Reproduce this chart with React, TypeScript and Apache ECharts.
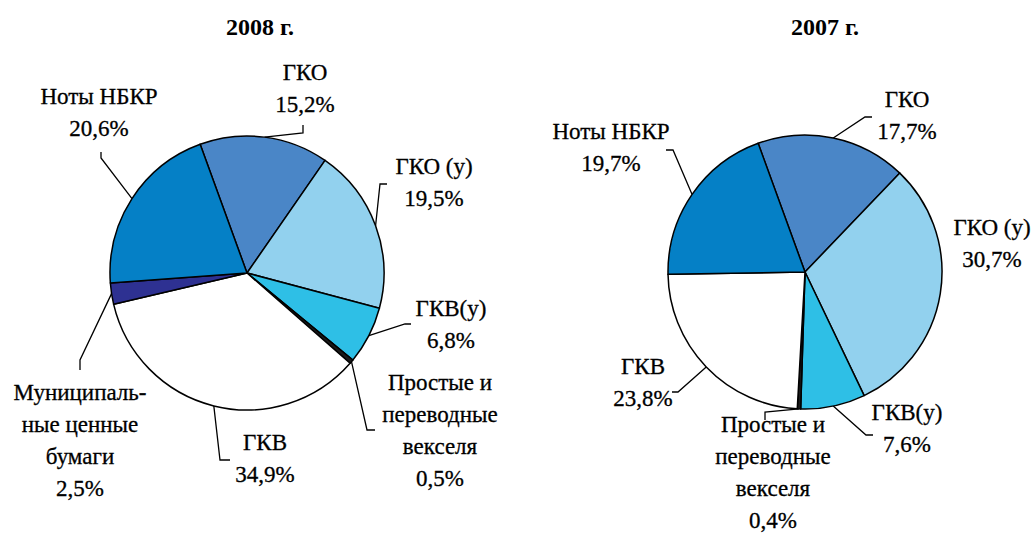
import { useEffect, useRef } from "react";
import * as echarts from "echarts";

// ---- data ----
const categories2008 = [
  "ГКО",
  "ГКО (у)",
  "ГКВ(у)",
  "Простые и\nпереводные\nвекселя",
  "ГКВ",
  "Муниципаль-\nные ценные\nбумаги",
  "Ноты НБКР",
];
const values2008 = [15.2, 19.5, 6.8, 0.5, 34.9, 2.5, 20.6];

const categories2007 = [
  "ГКО",
  "ГКО (у)",
  "ГКВ(у)",
  "Простые и\nпереводные\nвекселя",
  "ГКВ",
  "Ноты НБКР",
];
const values2007 = [17.7, 30.7, 7.6, 0.4, 23.8, 19.7];

const titles = ["2008 г.", "2007 г."];

// ---- styles ----
const colorMap: Record<string, string> = {
  "ГКО": "#4A86C7",
  "ГКО (у)": "#92D1EE",
  "ГКВ(у)": "#2EBFE6",
  "Простые и\nпереводные\nвекселя": "#1A1A1A",
  "ГКВ": "#FFFFFF",
  "Муниципаль-\nные ценные\nбумаги": "#2E3192",
  "Ноты НБКР": "#0580C6",
};

// label anchor (centre of text block) and leader-line elbow/end, in px
type LabelPos = { at: [number, number]; line?: [[number, number], [number, number]] };
const labels2008: LabelPos[] = [
  { at: [305, 88], line: [[303, 133], [303, 125]] },
  { at: [434, 182], line: [[380, 184], [387, 184]] },
  { at: [451, 324], line: [[405, 324], [411, 324]] },
  { at: [440, 430], line: [[367, 430], [375, 430]] },
  { at: [265, 458], line: [[220, 460], [230, 460]] },
  { at: [80, 440], line: [[80, 360], [80, 370]] },
  { at: [99, 112], line: [[101, 158], [101, 152]] },
];
const labels2007: LabelPos[] = [
  { at: [907, 115], line: [[865, 117], [872, 117]] },
  { at: [992, 243] },
  { at: [907, 428], line: [[866, 435], [873, 435]] },
  { at: [773, 472], line: [[765, 412], [765, 420]] },
  { at: [643, 382], line: [[678, 392], [672, 392]] },
  { at: [611, 147], line: [[673, 150], [666, 150]] },
];

const FONT = "Liberation Serif";

const fmt = (v: number) => v.toFixed(1).replace(".", ",");

function makeSeries(
  cats: string[],
  vals: number[],
  center: [number, number],
  pos: LabelPos[]
) {
  return {
    type: "pie",
    radius: 137,
    center,
    startAngle: 110,
    clockwise: true,
    avoidLabelOverlap: false,
    silent: true,
    emphasis: { disabled: true },
    itemStyle: { borderColor: "#000", borderWidth: 1.5 },
    label: {
      show: true,
      position: "outside",
      formatter: (p: any) => `${p.name}\n${fmt(p.value)}%`,
      fontFamily: FONT,
      fontSize: 23,
      lineHeight: 32,
      color: "#000",
      align: "center",
      textBorderColor: "#000",
      textBorderWidth: 0.3,
    },
    labelLine: {
      show: true,
      length: 10,
      length2: 10,
      lineStyle: { color: "#000", width: 1.3 },
    },
    labelLayout: (params: any) => {
      const L = pos[params.dataIndex];
      const p0 = params.labelLinePoints ? params.labelLinePoints[0] : null;
      const res: any = {
        x: L.at[0],
        y: L.at[1],
        align: "center",
        verticalAlign: "middle",
      };
      if (L.line && p0) res.labelLinePoints = [p0, L.line[0], L.line[1]];
      return res;
    },
    data: cats.map((c, i) => ({
      name: c,
      value: vals[i],
      itemStyle: { color: colorMap[c] },
      labelLine: { show: !!pos[i].line },
    })),
  };
}

export default function App() {
  const ref = useRef<HTMLDivElement>(null);
  useEffect(() => {
    if (!ref.current) return;
    const chart = echarts.init(ref.current, undefined, { renderer: "svg" });
    chart.setOption({
      animation: false,
      backgroundColor: "#fff",
      textStyle: { fontFamily: FONT },
      title: [
        {
          text: titles[0],
          left: 255,
          top: 10,
          textAlign: "center",
          textStyle: { fontFamily: FONT, fontSize: 24, fontWeight: "bold", color: "#000" },
        },
        {
          text: titles[1],
          left: 820,
          top: 10,
          textAlign: "center",
          textStyle: { fontFamily: FONT, fontSize: 24, fontWeight: "bold", color: "#000" },
        },
      ],
      series: [
        makeSeries(categories2008, values2008, [247, 273], labels2008),
        makeSeries(categories2007, values2007, [805, 272], labels2007),
      ],
    });
    return () => chart.dispose();
  }, []);
  return (
    <div
      ref={ref}
      style={{ position: "fixed", left: 0, top: 0, width: 1035, height: 533 }}
    />
  );
}
